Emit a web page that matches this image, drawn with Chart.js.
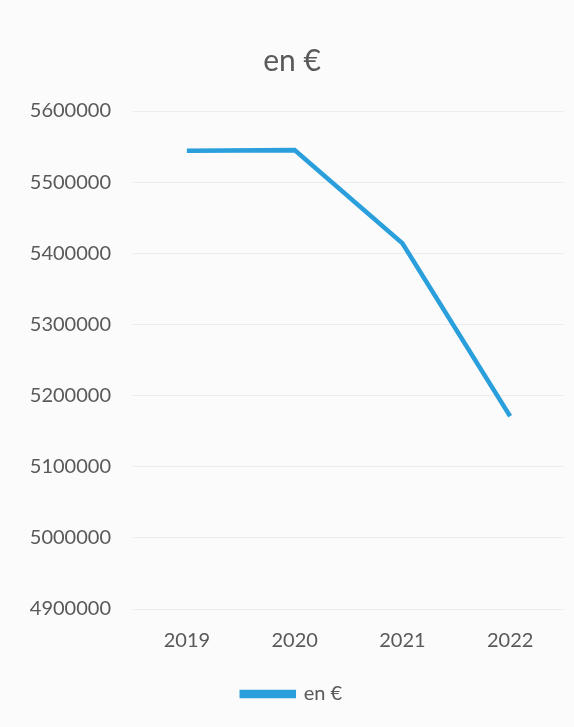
<!DOCTYPE html>
<html lang="fr">
<head>
    <meta charset="UTF-8">
    <title>en €</title>
    <script src="https://cdn.jsdelivr.net/npm/chart.js"></script>
    <style>
        html, body { margin: 0; padding: 0; background: #fbfbfc; }
        #wrap { width: 574px; height: 727px; position: relative; }
    </style>
</head>
<body>
    <div id="wrap">
        <canvas id="myChart"></canvas>
    </div>

    <script>
        // data
        const years = ['2019', '2020', '2021', '2022'];
        const valuesEur = [5544000, 5545000, 5414000, 5171000];
        const seriesLabel = 'en €';

        const textColor = '#595959';
        const lineColor = '#2b9fdb';

        const ctx = document.getElementById('myChart').getContext('2d');
        new Chart(ctx, {
            type: 'line',
            data: {
                labels: years,
                datasets: [
                    {
                        label: seriesLabel,
                        data: valuesEur,
                        borderColor: lineColor,
                        backgroundColor: lineColor,
                        borderWidth: 4.5,
                        pointRadius: 0,
                        fill: false,
                        tension: 0,
                    }
                ]
            },
            options: {
                responsive: true,
                maintainAspectRatio: false,
                animation: false,
                layout: {
                    padding: { top: 43, left: 20, right: 10, bottom: 13 }
                },
                plugins: {
                    title: {
                        display: true,
                        text: seriesLabel,
                        color: textColor,
                        font: { family: 'Lato', size: 30, weight: 'normal' },
                        padding: { top: 0, bottom: 32 }
                    },
                    legend: {
                        position: 'bottom',
                        labels: {
                            color: textColor,
                            font: { family: 'Lato', size: 20 },
                            boxWidth: 52,
                            boxHeight: 4,
                            padding: 11,
                        }
                    },
                    tooltip: { enabled: false }
                },
                scales: {
                    x: {
                        offset: true,
                        grid: { display: false, drawTicks: false },
                        border: { display: false },
                        ticks: {
                            color: textColor,
                            font: { family: 'Lato', size: 20 },
                            padding: 20,
                        }
                    },
                    y: {
                        min: 4900000,
                        max: 5600000,
                        grid: { color: '#ededed', lineWidth: 1, drawTicks: false },
                        border: { display: false },
                        // fixed axis width so the plot starts where it does in the picture
                        afterFit: axis => { axis.width = 113; },
                        ticks: {
                            stepSize: 100000,
                            color: textColor,
                            font: { family: 'Lato', size: 20 },
                            padding: 22,
                            callback: value => String(value),
                        }
                    }
                }
            }
        });
    </script>
</body>
</html>
